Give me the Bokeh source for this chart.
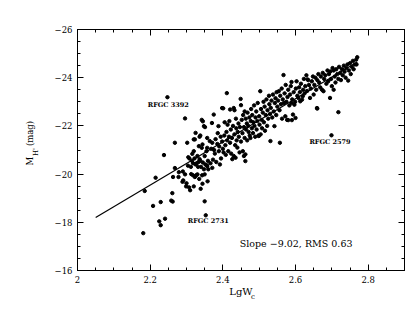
import numpy as np
from bokeh.plotting import figure
from bokeh.models import (Range1d, LinearAxis, FixedTicker, CustomJSTickFormatter,
                          Label, Title, ColumnDataSource)
from bokeh.embed import file_html
from bokeh.resources import INLINE

# ---- data ----
pts_faint = [(2.181,-17.55),(2.185,-19.30),(2.208,-18.68),(2.215,-19.85),(2.225,-18.04),(2.229,-17.88),
             (2.229,-18.84),(2.241,-18.15),(2.238,-20.79),(2.2475,-23.19),(2.258,-18.90),(2.262,-18.86),
             (2.261,-19.21),(2.263,-19.88),(2.268,-20.25),(2.268,-21.30),(2.278,-19.88),(2.279,-20.08),
             (2.289,-19.68),(2.291,-19.74),(2.290,-20.11),(2.296,-19.99),(2.296,-22.31),(2.299,-19.49)]
pts_230 = [(2.302,-21.30),(2.305,-20.70),(2.308,-20.65),(2.310,-19.33),(2.316,-20.84),(2.320,-19.49),
           (2.320,-21.44),(2.320,-20.95),(2.323,-19.88),(2.323,-21.44),(2.325,-21.71),(2.325,-20.40),
           (2.328,-20.45),(2.330,-19.99),(2.332,-20.30),(2.334,-21.16),(2.336,-21.55),(2.338,-21.60),
           (2.336,-20.62),(2.338,-20.55),(2.339,-19.39),(2.340,-20.30),(2.342,-22.25),(2.342,-21.09),
           (2.344,-21.23),(2.344,-19.60),(2.345,-20.48),(2.345,-22.19),(2.348,-21.99),(2.350,-19.99),
           (2.350,-18.87),(2.350,-20.75),(2.351,-21.95),(2.353,-18.29),(2.355,-20.95),(2.356,-20.36),
           (2.357,-21.09),(2.357,-21.50),(2.357,-20.33),(2.358,-19.70),(2.359,-20.55),(2.304,-20.35),
           (2.312,-20.30),(2.315,-20.55),(2.318,-20.45),(2.322,-20.65),(2.330,-20.75),(2.333,-20.50),
           (2.313,-20.00),(2.318,-19.95),(2.327,-19.95),(2.335,-19.80),(2.300,-19.62),(2.307,-19.45),
           (2.343,-19.95),(2.348,-20.20),(2.352,-20.40),(2.360,-20.20)]
pts_236 = [(2.364,-21.37),(2.366,-20.45),(2.368,-21.05),(2.370,-22.12),(2.371,-21.30),(2.371,-20.26),
           (2.373,-20.60),(2.375,-22.47),(2.376,-21.00),(2.378,-20.85),(2.380,-21.45),(2.382,-20.50),
           (2.385,-21.25),(2.386,-21.70),(2.388,-21.99),(2.389,-20.95),(2.390,-21.15),(2.392,-20.40),
           (2.394,-21.55),(2.395,-20.65),(2.398,-22.74),(2.398,-21.35),(2.400,-21.05),(2.401,-22.73),
           (2.402,-20.90),(2.404,-21.60),(2.405,-22.15),(2.407,-21.20),(2.408,-20.80),(2.410,-21.75),
           (2.411,-23.36),(2.412,-21.40),(2.413,-22.05),(2.415,-20.95),(2.417,-21.55),(2.418,-22.20),
           (2.420,-22.68),(2.420,-21.30),(2.422,-21.85),(2.423,-20.85),(2.425,-21.50),(2.426,-20.62),
           (2.428,-22.00),(2.430,-22.74),(2.430,-20.75),(2.432,-22.65),(2.432,-21.65),(2.434,-21.20),
           (2.435,-20.68),(2.436,-22.30),(2.437,-21.90),(2.438,-21.40),(2.440,-21.10),(2.441,-21.75),
           (2.443,-22.10),(2.444,-21.55),(2.446,-20.90),(2.447,-21.95),(2.449,-23.12),(2.450,-21.35),
           (2.450,-22.86)]
pts_245 = [(2.452,-22.25),(2.454,-21.70),(2.455,-20.95),(2.456,-22.45),(2.458,-20.75),(2.458,-21.95),
           (2.460,-22.60),(2.460,-21.50),(2.462,-20.82),(2.462,-20.54),(2.463,-22.30),(2.464,-21.85),
           (2.466,-22.10),(2.467,-21.40),(2.468,-22.55),(2.470,-22.00),(2.471,-21.75),(2.473,-22.35),
           (2.474,-21.60),(2.476,-21.50),(2.477,-22.20),(2.478,-22.70),(2.480,-21.90),(2.481,-22.45),
           (2.483,-21.70),(2.484,-22.15),(2.486,-22.85),(2.487,-22.00),(2.489,-21.55),(2.490,-22.35),
           (2.492,-22.60),(2.493,-21.85),(2.495,-22.20),(2.496,-22.95),(2.498,-21.60),(2.499,-21.58),
           (2.500,-22.40),(2.501,-22.05),(2.503,-23.44),(2.504,-21.65),(2.505,-22.70),(2.507,-22.25),
           (2.508,-21.90),(2.510,-22.55),(2.512,-23.00),(2.513,-22.15),(2.515,-22.80),(2.516,-21.80),
           (2.518,-22.45),(2.520,-23.10),(2.522,-22.00),(2.523,-22.65),(2.525,-22.30),(2.527,-23.25),
           (2.528,-22.90),(2.530,-22.50),(2.531,-21.37),(2.532,-22.75),(2.534,-23.05),(2.536,-22.35),
           (2.538,-23.30),(2.540,-22.60),(2.542,-21.99),(2.543,-22.95),(2.545,-23.15),(2.547,-22.45),
           (2.548,-23.40),(2.550,-22.80)]
pts_255 = [(2.552,-23.05),(2.554,-23.44),(2.556,-22.65),(2.557,-21.30),(2.558,-23.25),(2.560,-22.90),
           (2.562,-23.55),(2.563,-22.30),(2.565,-23.10),(2.567,-24.11),(2.568,-22.95),(2.570,-23.35),
           (2.572,-22.40),(2.573,-23.70),(2.575,-23.00),(2.577,-22.25),(2.578,-23.20),(2.580,-22.24),
           (2.580,-23.50),(2.583,-22.85),(2.585,-23.30),(2.587,-23.65),(2.589,-22.95),(2.589,-23.82),
           (2.590,-22.24),(2.591,-23.10),(2.593,-22.47),(2.595,-23.40),(2.597,-22.88),(2.599,-23.00),
           (2.600,-22.33),(2.601,-23.55),(2.603,-23.85),(2.605,-23.25),(2.608,-23.16),(2.610,-23.60),
           (2.612,-23.40),(2.613,-23.02),(2.615,-23.75),(2.618,-23.09),(2.620,-23.23),(2.621,-23.50),
           (2.623,-23.95),(2.625,-23.35),(2.627,-23.65),(2.630,-24.10),(2.632,-23.45),(2.633,-23.93),
           (2.635,-23.90),(2.637,-23.70),(2.640,-23.16),(2.642,-23.55),(2.645,-23.85),(2.648,-24.05),
           (2.650,-23.30)]
pts_265 = [(2.652,-23.70),(2.655,-24.00),(2.657,-23.50),(2.659,-22.74),(2.660,-23.90),(2.660,-22.72),
           (2.663,-24.15),(2.665,-23.80),(2.668,-23.60),(2.670,-24.05),(2.673,-23.50),(2.675,-24.20),
           (2.677,-23.44),(2.679,-23.95),(2.682,-24.10),(2.685,-23.75),(2.688,-24.30),(2.690,-23.85),
           (2.692,-24.15),(2.695,-23.16),(2.696,-24.26),(2.698,-23.95),(2.699,-21.61),(2.700,-23.65),
           (2.702,-24.40),(2.705,-24.30),(2.705,-23.50),(2.708,-24.05),(2.710,-23.80),(2.712,-24.35),
           (2.715,-24.15),(2.718,-22.57),(2.718,-23.95),(2.720,-24.45),(2.723,-24.20),(2.725,-23.90),
           (2.728,-24.35),(2.730,-24.10),(2.733,-24.50),(2.735,-24.25),(2.738,-24.00),(2.740,-24.40),
           (2.743,-24.55),(2.745,-23.88),(2.747,-24.30),(2.750,-24.60),(2.752,-24.15),(2.755,-24.45),
           (2.758,-24.70),(2.760,-24.35),(2.763,-24.55),(2.767,-24.75),(2.770,-24.85),(2.768,-24.55)]

fit_x = [2.05, 2.77]
fit_y = [-18.2, -24.65]

ann_text = ["RFGC 3392", "RFGC 2579", "RFGC 2731"]
ann_x = [2.25, 2.695, 2.36]
ann_y = [-22.88, -21.34, -18.06]
slope_text = "Slope \u22129.02,  RMS  0.63"
slope_x, slope_y = 2.61, -17.12

x_major = [2.0, 2.2, 2.4, 2.6, 2.8]
y_major = [-26, -24, -22, -20, -18, -16]

NB = "\u00a0"
x_title, x_sub = "LgW", "c"
y_title, y_sub = NB * 5 + "M" + NB * 4 + "(mag)", "H'"

all_pts = pts_faint + pts_230 + pts_236 + pts_245 + pts_255 + pts_265
src = ColumnDataSource(dict(x=[a for a, b in all_pts], y=[b for a, b in all_pts]))

FONT = "DejaVu Serif"

p = figure(frame_width=327, frame_height=241, x_range=Range1d(2.0, 2.9), y_range=Range1d(-16, -26),
           output_backend="svg", toolbar_location=None,
           min_border_left=77, min_border_right=2, min_border_top=29, min_border_bottom=44)
p.xgrid.visible = False
p.ygrid.visible = False
p.outline_line_color = "black"
p.background_fill_color = "white"
p.border_fill_color = "white"

x_minor = list(np.round(np.arange(2.0, 2.9001, 0.05), 3))
y_minor = list(np.round(np.arange(-26, -15.99, 0.5), 2))

def style(ax, xdir, labels):
    ax.ticker = FixedTicker(ticks=(x_major if xdir else y_major),
                            minor_ticks=(x_minor if xdir else y_minor))
    ax.major_tick_in = 6
    ax.major_tick_out = 0
    ax.minor_tick_in = 3
    ax.minor_tick_out = 0
    ax.axis_line_color = "black"
    ax.major_tick_line_color = "black"
    ax.minor_tick_line_color = "black"
    if labels:
        ax.major_label_text_font = FONT
        ax.major_label_text_font_size = "8.5px"
        ax.major_label_text_color = "black"
        ax.major_label_standoff = 5
        ax.axis_label_text_font = FONT
        ax.axis_label_text_font_style = "normal"
        ax.axis_label_text_color = "black"
        if xdir:
            ax.formatter = CustomJSTickFormatter(code="return String(Math.round(tick*10)/10);")
        else:
            ax.formatter = CustomJSTickFormatter(
                code="return tick < 0 ? '\u2212' + String(Math.abs(tick)) : String(tick);")
    else:
        ax.axis_label = None
        ax.formatter = CustomJSTickFormatter(code="return '';")
        ax.major_label_text_font_size = "0px"
        ax.major_label_standoff = 0

xa = p.xaxis[0]
ya = p.yaxis[0]
style(xa, True, True)
style(ya, False, True)
xa.axis_label = x_title
xa.axis_label_text_font_size = "10px"
xa.axis_label_standoff = 0
ya.axis_label = y_title
ya.axis_label_text_font_size = "8.5px"
ya.axis_label_standoff = 17

top = LinearAxis()
right = LinearAxis()
style(top, True, False)
style(right, False, False)
p.add_layout(top, "above")
p.add_layout(right, "right")

def sub_title(text, offset, standoff, valign):
    kw = dict(text=text, align="left", vertical_align=valign, offset=offset,
              text_font=FONT, text_font_size="7px", text_font_style="normal",
              text_color="black")
    try:
        return Title(standoff=standoff, **kw)
    except Exception:
        return Title(standoff=0, **kw)

p.add_layout(sub_title(x_sub, 173.5, -14, "top"), "below")
p.add_layout(sub_title(y_sub, 114.5, -36, "bottom"), "left")

p.line(fit_x, fit_y, line_color="black", line_width=1.2)
p.scatter("x", "y", source=src, size=3.4, color="black")

for t, xx, yy in zip(ann_text, ann_x, ann_y):
    p.add_layout(Label(x=xx, y=yy, text=t, text_align="center", text_baseline="middle",
                       text_font=FONT, text_font_size="6.5px", text_font_style="bold",
                       text_color="black"))
p.add_layout(Label(x=slope_x, y=slope_y, text=slope_text, text_align="center",
                   text_baseline="middle", text_font=FONT, text_font_size="9.5px",
                   text_color="black"))

open("out.html", "w").write(file_html(p, INLINE))
